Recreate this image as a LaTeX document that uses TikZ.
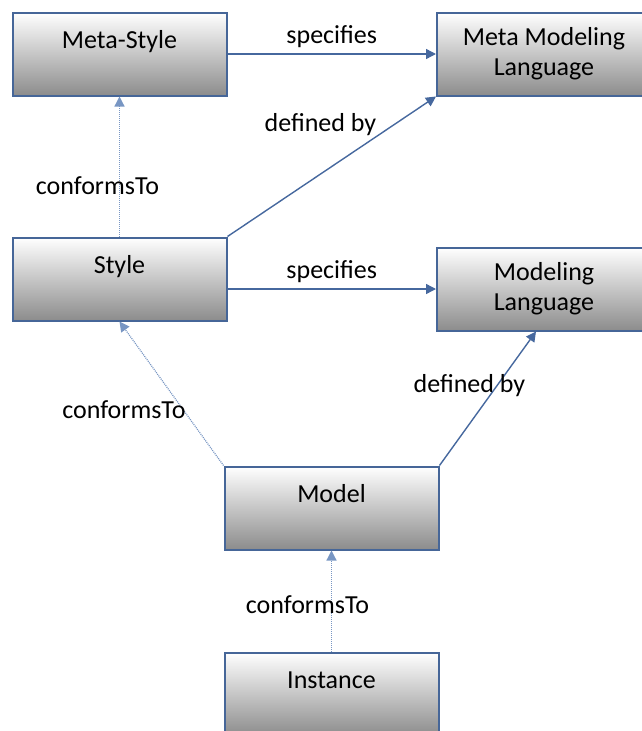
\documentclass[tikz,border=0pt]{standalone}
\usepackage{fontspec}
\setmainfont{Carlito}
\usetikzlibrary{arrows.meta}
\usetikzlibrary{shadows}
\definecolor{boxline}{RGB}{70,102,152}
\definecolor{linkline}{RGB}{70,104,158}
\definecolor{confline}{RGB}{120,150,195}
\tikzset{
	mbox/.style = {rectangle, draw=boxline, line width=2pt, align=center,
		minimum width=214pt, minimum height=83pt, inner sep=0pt,
		top color=white, bottom color=black!45,
		drop shadow={shadow xshift=1.5pt, shadow yshift=-1.5pt, opacity=0.35},
		font=\fontsize{26}{30}\selectfont},% boite du modele
	onerow/.style = {text height=18pt, text depth=30pt},% une seule ligne en haut
	lbl/.style = {font=\fontsize{26}{30}\selectfont, text=black},
	link/.style = {draw=linkline, line width=1.4pt},% trait plein
	conf/.style = {draw=confline, line width=1.2pt,
		dash pattern=on 1pt off 1pt}% conformsTo
}
\begin{document}
\begin{tikzpicture}[x=1pt,y=-1pt,>={Triangle[length=10pt,width=10pt]}]
	\useasboundingbox (0,0) rectangle (641,731);
	\node [mbox,onerow] (metastyle) at (119.5,54) {Meta-Style};
	\node [mbox] (metalang) at (544,54) {Meta Modeling\\Language};
	\node [mbox,onerow] (style) at (119.5,279) {Style};
	\node [mbox] (lang) at (544,289) {Modeling\\Language};
	\node [mbox,onerow] (model) at (331.5,508) {Model};
	\node [mbox,onerow] (instance) at (331.5,694) {Instance};
	% fleches
	\draw [link,->] (metastyle.east) -- (metalang.west)
		node[lbl,midway,above=2pt] {specifies};
	\draw [link,->] (style.north east) -- (metalang.south west)
		node[lbl,pos=0.8,left=14pt] {defined by};
	\draw [conf,->] (style.north) -- (metastyle.south)
		node[lbl,pos=0.36,xshift=-22pt] {conformsTo};
	\draw [link,->] (style.east |- lang.west) -- (lang.west)
		node[lbl,midway,above=2pt] {specifies};
	\draw [conf,->] (model.north west) -- (style.south)
		node[lbl,pos=0.39,xshift=-59pt] {conformsTo};
	\draw [link,->] (model.north east) -- ([xshift=-8pt]lang.south)
		node[lbl,pos=0.6,xshift=-28pt] {defined by};
	\draw [conf,->] (instance.north) -- (model.south)
		node[lbl,pos=0.46,xshift=-24pt] {conformsTo};
\end{tikzpicture}
\end{document}
